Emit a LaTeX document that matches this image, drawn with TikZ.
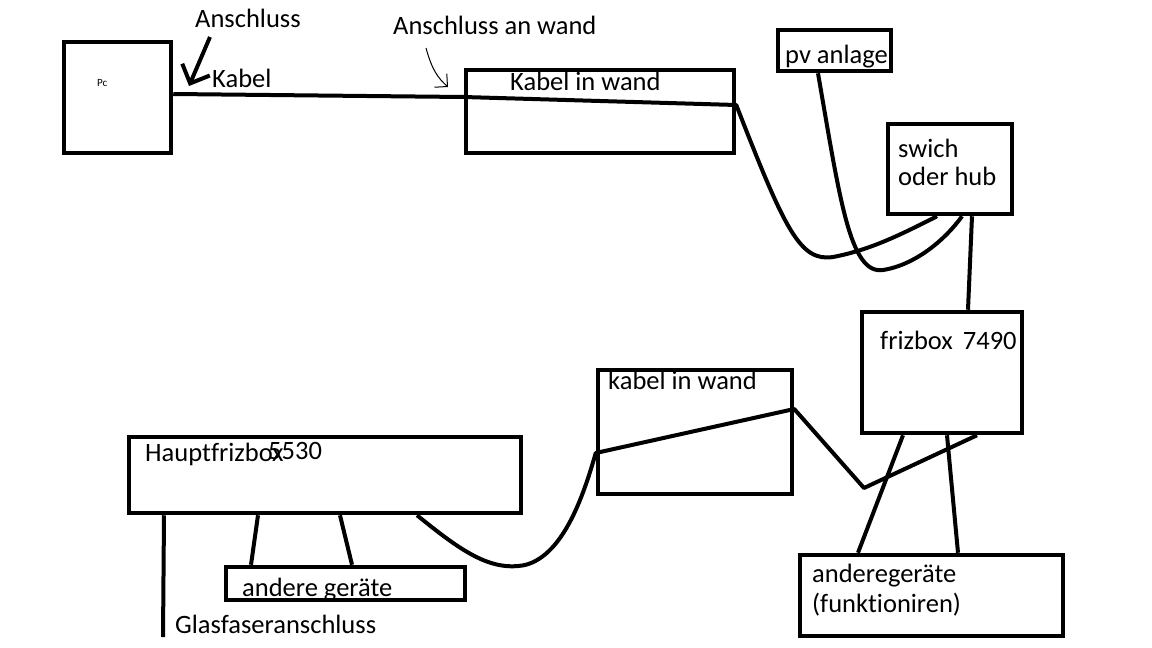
\documentclass[tikz,border=0pt]{standalone}
\usepackage{fontspec}
\setmainfont{Carlito}[Ligatures=NoCommon]
\usetikzlibrary{calc,arrows.meta}

\begin{document}
\begin{tikzpicture}[x=1pt,y=-1pt,
  font=\fontsize{26.5}{31}\selectfont,
  kasten/.style={draw, rectangle, line width=4.5pt, inner sep=0pt},
  kabel/.style={line width=4pt, line join=round},
  schrift/.style={anchor=base west, inner sep=0pt}]
  \useasboundingbox (0,0) rectangle (1152,648);

  % Pc
  \node[kasten, minimum width=107pt, minimum height=111pt] (pc) at (117.5,97.5) {};
  \node[schrift, font=\fontsize{11}{13}\selectfont] (pctext) at (97,86) {Pc};
  \node[schrift] (anschluss) at (195,27) {Anschluss};
  \node[schrift] (kabeltext) at (212,87) {Kabel};
  \coordinate (pcanschluss) at (189,86);
  \draw[line width=4pt, -{Straight Barb[length=15pt,width=30pt]}]
    ([xshift=15pt,yshift=-10pt]anschluss.base west) -- (pcanschluss);

  % Kabel in wand (oben)
  \node[kasten, minimum width=268pt, minimum height=83pt] (wand1) at (600,111.5) {};
  \node[schrift] (wand1text) at (510,90) {Kabel in wand};
  \node[schrift] (anschlusswand) at (393,34) {Anschluss an wand};
  \coordinate (wandanschluss) at (448,87);
  \draw[line width=1pt, -{Straight Barb[angle=90:13pt]}]
    ([xshift=33pt,yshift=-14pt]anschlusswand.base west) .. controls (432,70) and (438,78) .. (wandanschluss);

  % pv anlage, swich oder hub
  \node[kasten, minimum width=113pt, minimum height=41pt] (pv) at (834.5,50.5) {};
  \node[schrift] (pvtext) at (785,63) {pv anlage};
  \node[kasten, minimum width=124pt, minimum height=90pt] (hub) at (950,169) {};
  \node[schrift] (hubtext1) at (898,157) {swich};
  \node[schrift] (hubtext2) at (898,185) {oder hub};

  % frizbox 7490
  \node[kasten, minimum width=160pt, minimum height=121pt] (fritz) at (942,372.5) {};
  \node[schrift] (fritztext) at (880,349) {frizbox\hspace{10pt}7490};

  % kabel in wand (unten)
  \node[kasten, minimum width=194pt, minimum height=124pt] (wand2) at (695,432) {};
  \node[schrift] (wand2text) at (608,389) {kabel in wand};

  % Hauptfrizbox
  \node[kasten, minimum width=392pt, minimum height=76pt] (haupt) at (325,475) {};
  \node[schrift] (haupttext) at (145,461) {Hauptfrizbox};
  \node[schrift] (hauptnummer) at (268,459) {5530};
  \node[kasten, minimum width=239pt, minimum height=33pt] (geraete) at (345.5,583.5) {};
  \node[schrift] (geraetetext) at (242,596) {andere geräte};
  \coordinate (glasfaser) at (163,637);
  \node[schrift] (glasfasertext) at (175,633) {Glasfaseranschluss};

  % anderegeraete
  \node[kasten, minimum width=263pt, minimum height=81pt] (andere) at (931.5,595.5) {};
  \node[schrift] (anderetext1) at (812,582) {anderegeräte};
  \node[schrift] (anderetext2) at (812,612) {(funktioniren)};

  % Kabel oben
  \draw[kabel] ([yshift=3.5pt]pc.east) -- ([yshift=14.5pt]wand1.west) -- ([yshift=6.5pt]wand1.east)
    .. controls (785,230) and (800,262) .. (833,257)
    .. controls (870,250) and (900,235) .. ([xshift=-13pt]hub.south);
  \draw[kabel] ([xshift=-16.5pt]pv.south) .. controls (840,200) and (850,275) .. (883,270)
    .. controls (915,265) and (945,240) .. ([xshift=12pt]hub.south);
  \draw[kabel] ([xshift=22pt]hub.south) -- ([xshift=26pt]fritz.north);

  % Kabel unten
  \coordinate (knick) at (864,488);
  \draw[kabel] ([xshift=92pt]haupt.south) .. controls (460,550) and (490,572) .. (525,565)
    .. controls (565,555) and (585,490) .. ([yshift=-21pt]wand2.west)
    -- ([yshift=23pt]wand2.east) -- (knick) -- ([xshift=35pt]fritz.south);
  \draw[kabel] ([xshift=-39pt]fritz.south) -- ([xshift=-73.5pt]andere.north);
  \draw[kabel] ([xshift=5pt]fritz.south) -- ([xshift=26.5pt]andere.north);
  \draw[kabel] ([xshift=-67pt]haupt.south) -- ([xshift=-94.5pt]geraete.north);
  \draw[kabel] ([xshift=15pt]haupt.south) -- ([xshift=6.5pt]geraete.north);
  \draw[kabel] ([xshift=-161pt]haupt.south) -- (glasfaser);
\end{tikzpicture}
\end{document}
